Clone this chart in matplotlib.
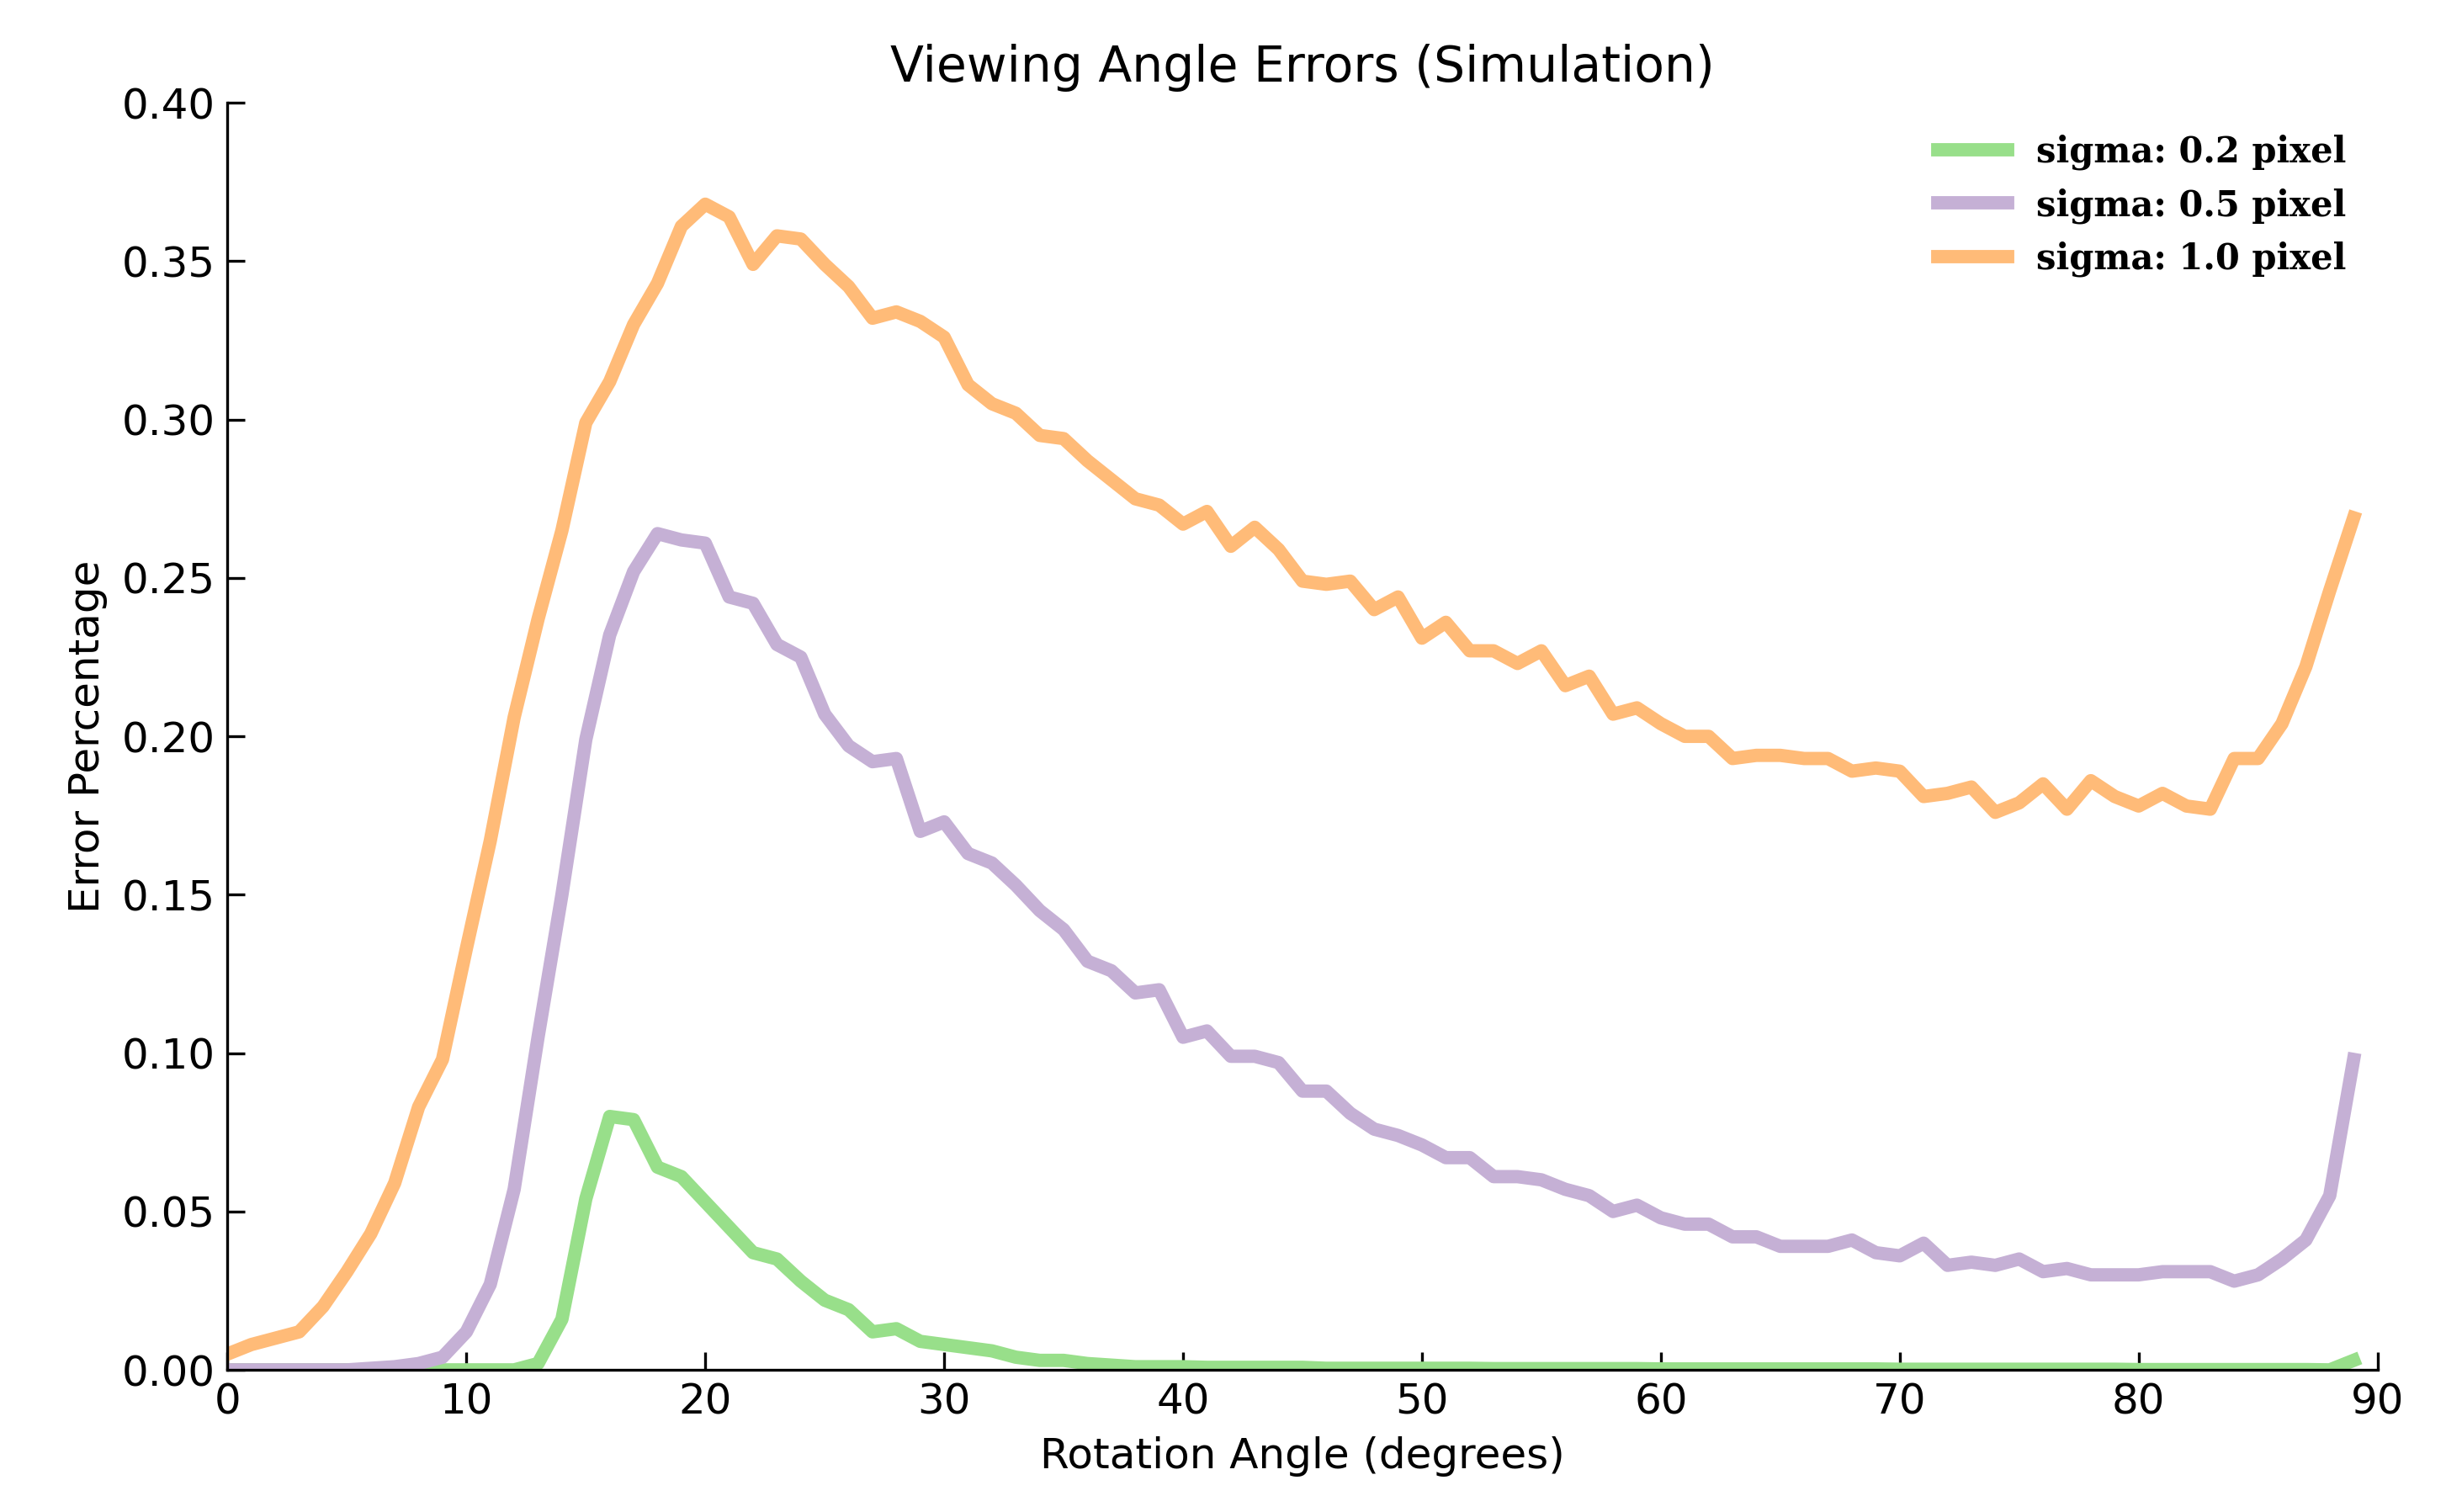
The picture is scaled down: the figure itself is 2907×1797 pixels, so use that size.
import numpy as np
import matplotlib
matplotlib.use('Agg')
import matplotlib.pyplot as plt

angles = list(range(90))

err_10 = [0.005, 0.008, 0.010, 0.012, 0.020, 0.031, 0.043, 0.059, 0.083, 0.098,
          0.133, 0.167, 0.206, 0.237, 0.265, 0.299, 0.312, 0.330, 0.343, 0.361,
          0.368, 0.364, 0.349, 0.358, 0.357, 0.349, 0.342, 0.332, 0.334, 0.331,
          0.326, 0.311, 0.305, 0.302, 0.295, 0.294, 0.287, 0.281, 0.275, 0.273,
          0.267, 0.271, 0.260, 0.266, 0.259, 0.249, 0.248, 0.249, 0.240, 0.244,
          0.231, 0.236, 0.227, 0.227, 0.223, 0.227, 0.216, 0.219, 0.207, 0.209,
          0.204, 0.200, 0.200, 0.193, 0.194, 0.194, 0.193, 0.193, 0.189, 0.190,
          0.189, 0.181, 0.182, 0.184, 0.176, 0.179, 0.185, 0.177, 0.186, 0.181,
          0.178, 0.182, 0.178, 0.177, 0.193, 0.193, 0.204, 0.222, 0.246, 0.269]

err_05 = [0.000, 0.000, 0.000, 0.000, 0.000, 0.000, 0.0005, 0.001, 0.002, 0.004,
          0.012, 0.027, 0.057, 0.105, 0.150, 0.199, 0.232, 0.252, 0.264, 0.262,
          0.261, 0.244, 0.242, 0.229, 0.225, 0.207, 0.197, 0.192, 0.193, 0.170,
          0.173, 0.163, 0.160, 0.153, 0.145, 0.139, 0.129, 0.126, 0.119, 0.120,
          0.105, 0.107, 0.099, 0.099, 0.097, 0.088, 0.088, 0.081, 0.076, 0.074,
          0.071, 0.067, 0.067, 0.061, 0.061, 0.060, 0.057, 0.055, 0.050, 0.052,
          0.048, 0.046, 0.046, 0.042, 0.042, 0.039, 0.039, 0.039, 0.041, 0.037,
          0.036, 0.040, 0.033, 0.034, 0.033, 0.035, 0.031, 0.032, 0.030, 0.030,
          0.030, 0.031, 0.031, 0.031, 0.028, 0.030, 0.035, 0.041, 0.055, 0.098]

err_02 = [0.0] * 13 + [
          0.002, 0.016, 0.054, 0.080, 0.079, 0.064, 0.061,
          0.053, 0.045, 0.037, 0.035, 0.028, 0.022, 0.019, 0.012, 0.013, 0.009,
          0.008, 0.007, 0.006, 0.004, 0.003, 0.003, 0.002, 0.0015, 0.001, 0.001,
          0.001, 0.0008, 0.0008, 0.0008, 0.0008, 0.0008, 0.0005, 0.0005, 0.0005, 0.0005,
          0.0005, 0.0005, 0.0005, 0.0004, 0.0004, 0.0004, 0.0004, 0.0004, 0.0004, 0.0004,
          0.0003, 0.0003, 0.0003, 0.0003, 0.0003, 0.0003, 0.0003, 0.0003, 0.0003, 0.0003,
          0.0002, 0.0002, 0.0002, 0.0002, 0.0002, 0.0002, 0.0002, 0.0002, 0.0002, 0.0002,
          0.0001, 0.0001, 0.0001, 0.0001, 0.0001, 0.0001, 0.0001, 0.0001, 0.0, 0.003]

labels = ['sigma: 0.2 pixel', 'sigma: 0.5 pixel', 'sigma: 1.0 pixel']
colors = ['#98df8a', '#c5b0d5', '#ffbb78']

fig = plt.figure(figsize=(9.69, 5.99), dpi=300)
ax = fig.add_axes([0.093, 0.094, 0.879, 0.838])
for ys, lab, c in zip([err_02, err_05, err_10], labels, colors):
    ax.plot(angles, ys, color=c, linewidth=3.8, label=lab)

ax.set_xlim(0, 90)
ax.set_ylim(0, 0.4)
ax.set_xticks(range(0, 91, 10))
ax.set_yticks(np.arange(0, 0.401, 0.05))
ax.set_yticklabels(['%.2f' % v for v in np.arange(0, 0.401, 0.05)])
ax.spines['top'].set_visible(False)
ax.spines['right'].set_visible(False)
ax.tick_params(direction='in', top=False, right=False, labelsize=12, length=5)
ax.set_xlabel('Rotation Angle (degrees)', fontsize=12)
ax.set_ylabel('Error Percentage', fontsize=12)
ax.set_title('Viewing Angle Errors (Simulation)', fontsize=14)
ax.legend(loc='upper right', frameon=False,
          prop={'family': 'DejaVu Serif', 'weight': 'bold', 'size': 10})

fig.savefig('out.png', dpi=300)
